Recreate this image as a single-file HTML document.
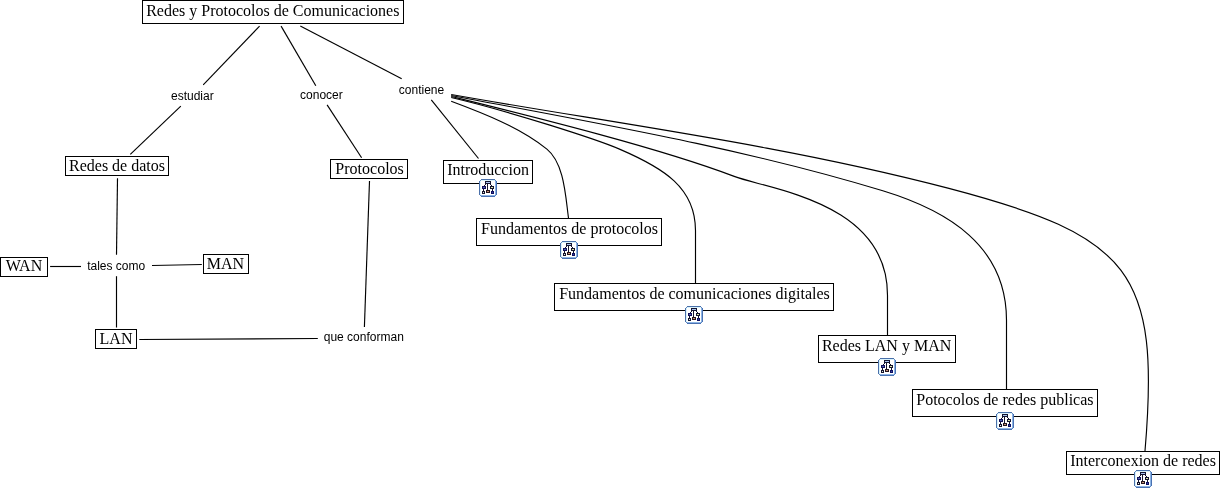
<!DOCTYPE html>
<html><head><meta charset="utf-8"><style>
html,body{margin:0;padding:0;background:#fff;width:1222px;height:491px;overflow:hidden}
svg{display:block;will-change:transform}
.c{font-family:"Liberation Serif",serif;font-size:16px;fill:#000}
.l{font-family:"Liberation Sans",sans-serif;font-size:12px;fill:#000}
</style></head><body>
<svg width="1222" height="491" viewBox="0 0 1222 491">
<defs>
<symbol id="ic" viewBox="0 0 18 18" width="18" height="18" shape-rendering="crispEdges"><rect x="1" y="1" width="16" height="16" fill="#fff"/><rect x="2" y="0" width="1" height="1" fill="#4a70aa"/><rect x="3" y="0" width="1" height="1" fill="#4a70aa"/><rect x="4" y="0" width="1" height="1" fill="#4a70aa"/><rect x="5" y="0" width="1" height="1" fill="#4a70aa"/><rect x="6" y="0" width="1" height="1" fill="#4a70aa"/><rect x="7" y="0" width="1" height="1" fill="#4a70aa"/><rect x="8" y="0" width="1" height="1" fill="#4a70aa"/><rect x="9" y="0" width="1" height="1" fill="#4a70aa"/><rect x="10" y="0" width="1" height="1" fill="#4a70aa"/><rect x="11" y="0" width="1" height="1" fill="#4a70aa"/><rect x="12" y="0" width="1" height="1" fill="#4a70aa"/><rect x="13" y="0" width="1" height="1" fill="#4a70aa"/><rect x="14" y="0" width="1" height="1" fill="#4a70aa"/><rect x="15" y="0" width="1" height="1" fill="#4a70aa"/><rect x="0" y="2" width="1" height="1" fill="#4a70aa"/><rect x="0" y="3" width="1" height="1" fill="#4a70aa"/><rect x="0" y="4" width="1" height="1" fill="#4a70aa"/><rect x="0" y="5" width="1" height="1" fill="#4a70aa"/><rect x="0" y="6" width="1" height="1" fill="#4a70aa"/><rect x="0" y="7" width="1" height="1" fill="#4a70aa"/><rect x="0" y="8" width="1" height="1" fill="#4a70aa"/><rect x="0" y="9" width="1" height="1" fill="#4a70aa"/><rect x="0" y="10" width="1" height="1" fill="#4a70aa"/><rect x="0" y="11" width="1" height="1" fill="#4a70aa"/><rect x="0" y="12" width="1" height="1" fill="#4a70aa"/><rect x="0" y="13" width="1" height="1" fill="#4a70aa"/><rect x="0" y="14" width="1" height="1" fill="#4a70aa"/><rect x="0" y="15" width="1" height="1" fill="#4a70aa"/><rect x="17" y="2" width="1" height="1" fill="#4a72b2"/><rect x="16" y="2" width="1" height="1" fill="#8cb4e6"/><rect x="17" y="3" width="1" height="1" fill="#4a72b2"/><rect x="16" y="3" width="1" height="1" fill="#8cb4e6"/><rect x="17" y="4" width="1" height="1" fill="#4a72b2"/><rect x="16" y="4" width="1" height="1" fill="#8cb4e6"/><rect x="17" y="5" width="1" height="1" fill="#4a72b2"/><rect x="16" y="5" width="1" height="1" fill="#8cb4e6"/><rect x="17" y="6" width="1" height="1" fill="#4a72b2"/><rect x="16" y="6" width="1" height="1" fill="#8cb4e6"/><rect x="17" y="7" width="1" height="1" fill="#4a72b2"/><rect x="16" y="7" width="1" height="1" fill="#8cb4e6"/><rect x="17" y="8" width="1" height="1" fill="#4a72b2"/><rect x="16" y="8" width="1" height="1" fill="#8cb4e6"/><rect x="17" y="9" width="1" height="1" fill="#4a72b2"/><rect x="16" y="9" width="1" height="1" fill="#8cb4e6"/><rect x="17" y="10" width="1" height="1" fill="#4a72b2"/><rect x="16" y="10" width="1" height="1" fill="#8cb4e6"/><rect x="17" y="11" width="1" height="1" fill="#4a72b2"/><rect x="16" y="11" width="1" height="1" fill="#8cb4e6"/><rect x="17" y="12" width="1" height="1" fill="#4a72b2"/><rect x="16" y="12" width="1" height="1" fill="#8cb4e6"/><rect x="17" y="13" width="1" height="1" fill="#4a72b2"/><rect x="16" y="13" width="1" height="1" fill="#8cb4e6"/><rect x="17" y="14" width="1" height="1" fill="#4a72b2"/><rect x="16" y="14" width="1" height="1" fill="#8cb4e6"/><rect x="17" y="15" width="1" height="1" fill="#4a72b2"/><rect x="16" y="15" width="1" height="1" fill="#8cb4e6"/><rect x="2" y="17" width="1" height="1" fill="#4a72b2"/><rect x="2" y="16" width="1" height="1" fill="#8cb4e6"/><rect x="3" y="17" width="1" height="1" fill="#4a72b2"/><rect x="3" y="16" width="1" height="1" fill="#8cb4e6"/><rect x="4" y="17" width="1" height="1" fill="#4a72b2"/><rect x="4" y="16" width="1" height="1" fill="#8cb4e6"/><rect x="5" y="17" width="1" height="1" fill="#4a72b2"/><rect x="5" y="16" width="1" height="1" fill="#8cb4e6"/><rect x="6" y="17" width="1" height="1" fill="#4a72b2"/><rect x="6" y="16" width="1" height="1" fill="#8cb4e6"/><rect x="7" y="17" width="1" height="1" fill="#4a72b2"/><rect x="7" y="16" width="1" height="1" fill="#8cb4e6"/><rect x="8" y="17" width="1" height="1" fill="#4a72b2"/><rect x="8" y="16" width="1" height="1" fill="#8cb4e6"/><rect x="9" y="17" width="1" height="1" fill="#4a72b2"/><rect x="9" y="16" width="1" height="1" fill="#8cb4e6"/><rect x="10" y="17" width="1" height="1" fill="#4a72b2"/><rect x="10" y="16" width="1" height="1" fill="#8cb4e6"/><rect x="11" y="17" width="1" height="1" fill="#4a72b2"/><rect x="11" y="16" width="1" height="1" fill="#8cb4e6"/><rect x="12" y="17" width="1" height="1" fill="#4a72b2"/><rect x="12" y="16" width="1" height="1" fill="#8cb4e6"/><rect x="13" y="17" width="1" height="1" fill="#4a72b2"/><rect x="13" y="16" width="1" height="1" fill="#8cb4e6"/><rect x="14" y="17" width="1" height="1" fill="#4a72b2"/><rect x="14" y="16" width="1" height="1" fill="#8cb4e6"/><rect x="15" y="17" width="1" height="1" fill="#4a72b2"/><rect x="15" y="16" width="1" height="1" fill="#8cb4e6"/><rect x="1" y="1" width="1" height="1" fill="#6088c0"/><rect x="16" y="1" width="1" height="1" fill="#6088c0"/><rect x="1" y="16" width="1" height="1" fill="#6088c0"/><rect x="16" y="16" width="1" height="1" fill="#6088c0"/><rect x="1" y="2" width="1" height="1" fill="#d8f2fc"/><rect x="1" y="3" width="1" height="1" fill="#d8f2fc"/><rect x="1" y="4" width="1" height="1" fill="#d8f2fc"/><rect x="1" y="5" width="1" height="1" fill="#d8f2fc"/><rect x="1" y="6" width="1" height="1" fill="#d8f2fc"/><rect x="1" y="7" width="1" height="1" fill="#d8f2fc"/><rect x="1" y="8" width="1" height="1" fill="#d8f2fc"/><rect x="1" y="9" width="1" height="1" fill="#d8f2fc"/><rect x="1" y="10" width="1" height="1" fill="#d8f2fc"/><rect x="1" y="11" width="1" height="1" fill="#d8f2fc"/><rect x="1" y="12" width="1" height="1" fill="#d8f2fc"/><rect x="1" y="13" width="1" height="1" fill="#d8f2fc"/><rect x="1" y="14" width="1" height="1" fill="#d8f2fc"/><rect x="1" y="15" width="1" height="1" fill="#d8f2fc"/><rect x="2" y="1" width="1" height="1" fill="#d8f2fc"/><rect x="3" y="1" width="1" height="1" fill="#d8f2fc"/><rect x="4" y="1" width="1" height="1" fill="#d8f2fc"/><rect x="5" y="1" width="1" height="1" fill="#d8f2fc"/><rect x="6" y="1" width="1" height="1" fill="#d8f2fc"/><rect x="7" y="1" width="1" height="1" fill="#d8f2fc"/><rect x="8" y="1" width="1" height="1" fill="#d8f2fc"/><rect x="9" y="1" width="1" height="1" fill="#d8f2fc"/><rect x="10" y="1" width="1" height="1" fill="#d8f2fc"/><rect x="11" y="1" width="1" height="1" fill="#d8f2fc"/><rect x="12" y="1" width="1" height="1" fill="#d8f2fc"/><rect x="13" y="1" width="1" height="1" fill="#d8f2fc"/><rect x="14" y="1" width="1" height="1" fill="#d8f2fc"/><rect x="15" y="1" width="1" height="1" fill="#d8f2fc"/><rect x="6" y="2" width="1" height="1" fill="#14142e"/><rect x="6" y="4" width="1" height="1" fill="#14142e"/><rect x="7" y="2" width="1" height="1" fill="#14142e"/><rect x="7" y="4" width="1" height="1" fill="#14142e"/><rect x="8" y="2" width="1" height="1" fill="#14142e"/><rect x="8" y="4" width="1" height="1" fill="#14142e"/><rect x="9" y="2" width="1" height="1" fill="#14142e"/><rect x="9" y="4" width="1" height="1" fill="#14142e"/><rect x="10" y="2" width="1" height="1" fill="#14142e"/><rect x="10" y="4" width="1" height="1" fill="#14142e"/><rect x="11" y="2" width="1" height="1" fill="#14142e"/><rect x="11" y="4" width="1" height="1" fill="#14142e"/><rect x="6" y="3" width="1" height="1" fill="#14142e"/><rect x="11" y="3" width="1" height="1" fill="#14142e"/><rect x="7" y="3" width="1" height="1" fill="#a8c4f0"/><rect x="8" y="3" width="1" height="1" fill="#a8c4f0"/><rect x="9" y="3" width="1" height="1" fill="#a8c4f0"/><rect x="10" y="3" width="1" height="1" fill="#a8c4f0"/><rect x="6" y="5" width="1" height="1" fill="#14142e"/><rect x="5" y="6" width="1" height="1" fill="#14142e"/><rect x="11" y="5" width="1" height="1" fill="#14142e"/><rect x="12" y="6" width="1" height="1" fill="#14142e"/><rect x="8" y="5" width="1" height="1" fill="#14142e"/><rect x="8" y="6" width="1" height="1" fill="#14142e"/><rect x="8" y="7" width="1" height="1" fill="#14142e"/><rect x="8" y="8" width="1" height="1" fill="#14142e"/><rect x="8" y="9" width="1" height="1" fill="#14142e"/><rect x="8" y="10" width="1" height="1" fill="#14142e"/><rect x="3" y="7" width="1" height="1" fill="#10105a"/><rect x="3" y="9" width="1" height="1" fill="#10105a"/><rect x="4" y="7" width="1" height="1" fill="#10105a"/><rect x="4" y="9" width="1" height="1" fill="#10105a"/><rect x="5" y="7" width="1" height="1" fill="#10105a"/><rect x="5" y="9" width="1" height="1" fill="#10105a"/><rect x="6" y="7" width="1" height="1" fill="#10105a"/><rect x="6" y="9" width="1" height="1" fill="#10105a"/><rect x="3" y="8" width="1" height="1" fill="#10105a"/><rect x="6" y="8" width="1" height="1" fill="#10105a"/><rect x="4" y="8" width="1" height="1" fill="#5060b0"/><rect x="5" y="8" width="1" height="1" fill="#5060b0"/><rect x="11" y="7" width="1" height="1" fill="#14142e"/><rect x="11" y="9" width="1" height="1" fill="#14142e"/><rect x="12" y="7" width="1" height="1" fill="#14142e"/><rect x="12" y="9" width="1" height="1" fill="#14142e"/><rect x="13" y="7" width="1" height="1" fill="#14142e"/><rect x="13" y="9" width="1" height="1" fill="#14142e"/><rect x="14" y="7" width="1" height="1" fill="#14142e"/><rect x="14" y="9" width="1" height="1" fill="#14142e"/><rect x="11" y="8" width="1" height="1" fill="#14142e"/><rect x="14" y="8" width="1" height="1" fill="#14142e"/><rect x="12" y="8" width="1" height="1" fill="#dae4a8"/><rect x="13" y="8" width="1" height="1" fill="#dae4a8"/><rect x="4" y="10" width="1" height="1" fill="#14142e"/><rect x="4" y="11" width="1" height="1" fill="#14142e"/><rect x="13" y="10" width="1" height="1" fill="#14142e"/><rect x="13" y="11" width="1" height="1" fill="#14142e"/><rect x="3" y="12" width="1" height="1" fill="#14142e"/><rect x="3" y="14" width="1" height="1" fill="#14142e"/><rect x="4" y="12" width="1" height="1" fill="#14142e"/><rect x="4" y="14" width="1" height="1" fill="#14142e"/><rect x="5" y="12" width="1" height="1" fill="#14142e"/><rect x="5" y="14" width="1" height="1" fill="#14142e"/><rect x="3" y="13" width="1" height="1" fill="#14142e"/><rect x="5" y="13" width="1" height="1" fill="#14142e"/><rect x="4" y="13" width="1" height="1" fill="#dde8dc"/><rect x="7" y="11" width="1" height="1" fill="#24141c"/><rect x="7" y="13" width="1" height="1" fill="#24141c"/><rect x="8" y="11" width="1" height="1" fill="#24141c"/><rect x="8" y="13" width="1" height="1" fill="#24141c"/><rect x="9" y="11" width="1" height="1" fill="#24141c"/><rect x="9" y="13" width="1" height="1" fill="#24141c"/><rect x="10" y="11" width="1" height="1" fill="#24141c"/><rect x="10" y="13" width="1" height="1" fill="#24141c"/><rect x="7" y="12" width="1" height="1" fill="#24141c"/><rect x="10" y="12" width="1" height="1" fill="#24141c"/><rect x="8" y="12" width="1" height="1" fill="#c4907a"/><rect x="9" y="12" width="1" height="1" fill="#c4907a"/><rect x="12" y="12" width="1" height="1" fill="#0e0e60"/><rect x="12" y="14" width="1" height="1" fill="#0e0e60"/><rect x="13" y="12" width="1" height="1" fill="#0e0e60"/><rect x="13" y="14" width="1" height="1" fill="#0e0e60"/><rect x="14" y="12" width="1" height="1" fill="#0e0e60"/><rect x="14" y="14" width="1" height="1" fill="#0e0e60"/><rect x="12" y="13" width="1" height="1" fill="#0e0e60"/><rect x="14" y="13" width="1" height="1" fill="#0e0e60"/><rect x="13" y="13" width="1" height="1" fill="#3848a0"/></symbol>
</defs>
<g stroke="#000" stroke-width="1.15" fill="none" stroke-linecap="butt">

<line x1="259.6" y1="26.1" x2="203.2" y2="84.8"/>
<line x1="281.1" y1="26.1" x2="315.8" y2="85.8"/>
<line x1="300.3" y1="26.1" x2="401.7" y2="78.7"/>
<line x1="180.8" y1="106.1" x2="130.3" y2="154.4"/>
<line x1="327.1" y1="104.9" x2="361.6" y2="157.7"/>
<line x1="117.5" y1="178.3" x2="116.5" y2="254.8"/>
<line x1="81" y1="266.5" x2="50.1" y2="266.5"/>
<line x1="152" y1="265.5" x2="201.8" y2="264.5"/>
<line x1="116.5" y1="276.2" x2="116.5" y2="327.5"/>
<line x1="369.5" y1="180.9" x2="364.4" y2="326.9"/>
<line x1="139.3" y1="339.5" x2="317.8" y2="338.5"/>
<line x1="431.3" y1="99.9" x2="478.5" y2="158.5"/>
<path d="M 451.2 101.2 C 482.9 113.0 519.9 127.4 546.9 149.1 C 564.5 163.3 565.6 197.5 568.5 218.0"/>
<path d="M 451.2 97.5 C 510.2 111.4 597.0 139.4 619.5 149.1 C 663.7 168.1 695.5 187.6 695.5 230.6 L 695.5 283.0"/>
<path d="M 451.2 96.5 C 532.2 116.6 657.7 147.4 734.2 176.4 C 769.3 189.6 887.5 201.9 887.5 295.2 L 887.5 335.0"/>
<path d="M 451.2 95.5 C 595.2 122.9 741.7 147.9 882.8 190.8 C 947.1 210.4 1006.5 245.5 1006.5 320.3 L 1006.5 389.0"/>
<path d="M 451.2 94.5 C 613.6 123.3 782.7 144.7 948.9 188.4 C 1130.6 236.1 1160.3 271.2 1145.0 451.0"/>
</g>
<g fill="#fff" stroke="#000" stroke-width="1">
<rect x="142.5" y="0.5" width="261" height="23"/>
<rect x="65.5" y="156.5" width="103" height="19"/>
<rect x="330.5" y="159.5" width="77" height="19"/>
<rect x="0.5" y="257.5" width="47" height="19"/>
<rect x="203.5" y="254.5" width="45" height="19"/>
<rect x="95.5" y="329.5" width="41" height="19"/>
<rect x="443.5" y="160.5" width="89" height="23"/>
<rect x="476.5" y="218.5" width="185" height="27"/>
<rect x="554.5" y="283.5" width="279" height="27"/>
<rect x="818.5" y="335.5" width="137" height="27"/>
<rect x="912.5" y="389.5" width="185" height="27"/>
<rect x="1066.5" y="451.5" width="153" height="23"/>
</g>
<text class="c" x="272.8" y="16" text-anchor="middle">Redes y Protocolos de Comunicaciones</text>
<text class="c" x="117" y="171" text-anchor="middle">Redes de datos</text>
<text class="c" x="369.6" y="174" text-anchor="middle">Protocolos</text>
<text class="c" x="24" y="271.4" text-anchor="middle">WAN</text>
<text class="c" x="225.5" y="268.5" text-anchor="middle">MAN</text>
<text class="c" x="116" y="343.5" text-anchor="middle">LAN</text>
<text class="c" x="488" y="175" text-anchor="middle">Introduccion</text>
<text class="c" x="569.5" y="234" text-anchor="middle">Fundamentos de protocolos</text>
<text class="c" x="694.5" y="299" text-anchor="middle">Fundamentos de comunicaciones digitales</text>
<text class="c" x="886.6" y="350.5" text-anchor="middle">Redes LAN y MAN</text>
<text class="c" x="1004.9" y="405" text-anchor="middle">Potocolos de redes publicas</text>
<text class="c" x="1143.1" y="466" text-anchor="middle">Interconexion de redes</text>
<text class="l" x="192.35" y="99.7" text-anchor="middle">estudiar</text>
<text class="l" x="321.4" y="99" text-anchor="middle">conocer</text>
<text class="l" x="421.5" y="94.2" text-anchor="middle">contiene</text>
<text class="l" x="116.2" y="270" text-anchor="middle">tales como</text>
<text class="l" x="363.8" y="340.5" text-anchor="middle">que conforman</text>
<use href="#ic" x="479.0" y="179" width="18" height="18"/>
<use href="#ic" x="560.0" y="241" width="18" height="18"/>
<use href="#ic" x="685.0" y="306" width="18" height="18"/>
<use href="#ic" x="878.0" y="358" width="18" height="18"/>
<use href="#ic" x="996.0" y="412" width="18" height="18"/>
<use href="#ic" x="1134.0" y="470" width="18" height="18"/>
</svg>
</body></html>
